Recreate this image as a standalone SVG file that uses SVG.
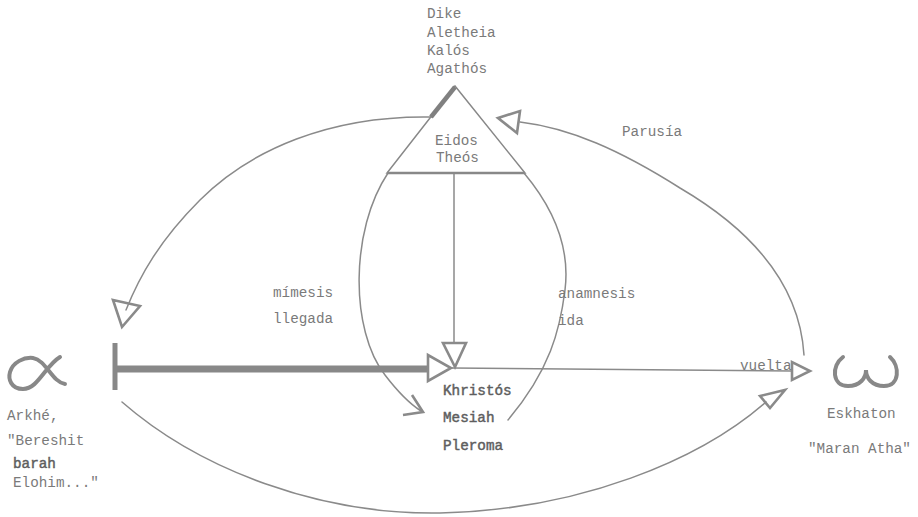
<svg xmlns="http://www.w3.org/2000/svg" width="918" height="517" viewBox="0 0 918 517">
<style>
.t{font-family:"Liberation Mono","DejaVu Sans Mono",monospace;font-size:14.3px;fill:#7a7a7a}
.b{fill:#5e5e5e;stroke:#5e5e5e;stroke-width:0.45}
.ln{fill:none;stroke:#8a8a8a;stroke-width:1.5;stroke-linecap:round}
.ah{fill:none;stroke:#8a8a8a;stroke-width:2.6;stroke-linejoin:miter}
.sym{fill:none;stroke:#888;stroke-width:4;stroke-linecap:round}
</style>
<rect width="918" height="517" fill="#fff"/>
<g id="connectors">
<path class="ln" d="M 432 117 C 330 115, 250 150, 200 200 C 160 240, 140 275, 126 310"/>
<path class="ln" d="M 804 355 C 800 290, 760 235, 680 188 C 620 150, 570 128, 520 122"/>
<path class="ln" d="M 388 173 C 350 230, 350 330, 385 375 C 398 392, 410 404, 421 411"/>
<path class="ln" d="M 524 173 C 555 210, 570 250, 565 290 C 560 330, 550 370, 508 420"/>
<path class="ln" d="M 122 402 C 200 470, 320 515, 440 513 C 580 510, 700 460, 766 402"/>
<line class="ln" x1="454" y1="173" x2="454" y2="343"/>
<line class="ln" x1="452" y1="368" x2="792" y2="371"/>
<line x1="115" y1="369" x2="428" y2="369" stroke="#888" stroke-width="7"/>
<line x1="115" y1="343" x2="115" y2="390" stroke="#888" stroke-width="5"/>
<polygon class="ah" points="113,300 140,306 122,327"/>
<polygon class="ah" points="498,118 520,111 517,133"/>
<polygon class="ah" points="443,343 466,343 455,367"/>
<polygon class="ah" points="428,355 428,381 451,368" stroke-width="4.5"/>
<polygon class="ah" points="792,362 792,380 810,371"/>
<polygon class="ah" points="760,396 770,408 785,390"/>
<polyline class="ah" points="412,395 423,412 403,415"/>
</g>
<g id="triangle">
<polygon points="455,86 387,173 525,173" fill="none" stroke="#888" stroke-width="1.5"/>
<line x1="455" y1="87" x2="431" y2="117" stroke="#808080" stroke-width="4.5"/>
<line x1="387" y1="173" x2="525" y2="173" stroke="#888" stroke-width="2.5"/>
<text class="t" x="435" y="145">Eidos</text>
<text class="t" x="436" y="162">Theós</text>
</g>
<g id="virtues">
<text class="t" x="427" y="18">Dike</text>
<text class="t" x="427" y="37">Aletheia</text>
<text class="t" x="427" y="55">Kalós</text>
<text class="t" x="427" y="73">Agathós</text>
</g>
<g id="alpha">
<path class="sym" d="M 60 357 C 45 366, 38 389, 23 389 C 11 389, 8 379, 10 372 C 13 362, 24 357, 33 358 C 46 360, 52 382, 65 384"/>
<text class="t" x="7" y="420">Arkhé,</text>
<text class="t" x="7" y="445">"Bereshit</text>
<text class="t b" x="13" y="468">barah</text>
<text class="t" x="13" y="487">Elohim..."</text>
</g>
<g id="omega">
<path class="sym" d="M 843 357 C 831 366, 832 386, 848 386 C 860 386, 866 378, 866 370 C 866 378, 872 386, 884 386 C 900 386, 900 366, 890 357"/>
<text class="t" x="827" y="418">Eskhaton</text>
<text class="t" x="808" y="453">"Maran Atha"</text>
</g>
<g id="khristos">
<text class="t b" x="443" y="395">Khristós</text>
<text class="t b" x="443" y="422">Mesiah</text>
<text class="t b" x="443" y="450">Pleroma</text>
</g>
<g id="labels">
<text class="t" x="622" y="136">Parusía</text>
<text class="t" x="273" y="297">mímesis</text>
<text class="t" x="273" y="323">llegada</text>
<text class="t" x="558" y="298">anamnesis</text>
<text class="t" x="558" y="325">ida</text>
<text class="t" x="740" y="370">vuelta</text>
</g>
</svg>
